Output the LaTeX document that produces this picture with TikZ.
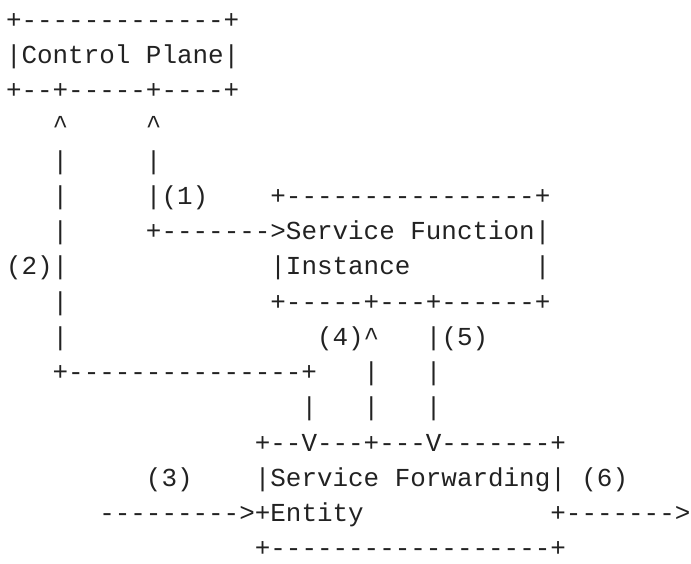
\documentclass[tikz,border=0pt]{standalone}
\usepackage{fontspec}
\setmonofont{Liberation Mono}
\definecolor{ink}{HTML}{222222}
\newcommand{\crt}{\textasciicircum}
\begin{document}
\begin{tikzpicture}[x=1pt,y=1pt,
  asciirow/.style={anchor=base west, inner sep=0pt, outer sep=0pt,
    font=\ttfamily\fontsize{25.92}{31}\selectfont, text=ink}]
\useasboundingbox (0,0) rectangle (691,-563);
\node[asciirow] (l0)  at (6,-28)     {+-------------+};
\node[asciirow] (l1)  at (6,-63.25)  {|Control~Plane|};
\node[asciirow] (l2)  at (6,-98.5)   {+--+-----+----+};
\node[asciirow] (l3)  at (6,-133.75) {~~~\crt~~~~~\crt};
\node[asciirow] (l4)  at (6,-169)    {~~~|~~~~~|};
\node[asciirow] (l5)  at (6,-204.25) {~~~|~~~~~|(1)~~~~+----------------+};
\node[asciirow] (l6)  at (6,-239.5)  {~~~|~~~~~+------->Service~Function|};
\node[asciirow] (l7)  at (6,-274.75) {(2)|~~~~~~~~~~~~~|Instance~~~~~~~~|};
\node[asciirow] (l8)  at (6,-310)    {~~~|~~~~~~~~~~~~~+-----+---+------+};
\node[asciirow] (l9)  at (6,-345.25) {~~~|~~~~~~~~~~~~~~~~(4)\crt~~~|(5)};
\node[asciirow] (l10) at (6,-380.5)  {~~~+---------------+~~~|~~~|};
\node[asciirow] (l11) at (6,-415.75) {~~~~~~~~~~~~~~~~~~~|~~~|~~~|};
\node[asciirow] (l12) at (6,-451)    {~~~~~~~~~~~~~~~~+--V---+---V-------+};
\node[asciirow] (l13) at (6,-486.25) {~~~~~~~~~(3)~~~~|Service~Forwarding|~(6)};
\node[asciirow] (l14) at (6,-521.5)  {~~~~~~--------->+Entity~~~~~~~~~~~~+------->};
\node[asciirow] (l15) at (6,-556.75) {~~~~~~~~~~~~~~~~+------------------+};
\end{tikzpicture}
\end{document}
